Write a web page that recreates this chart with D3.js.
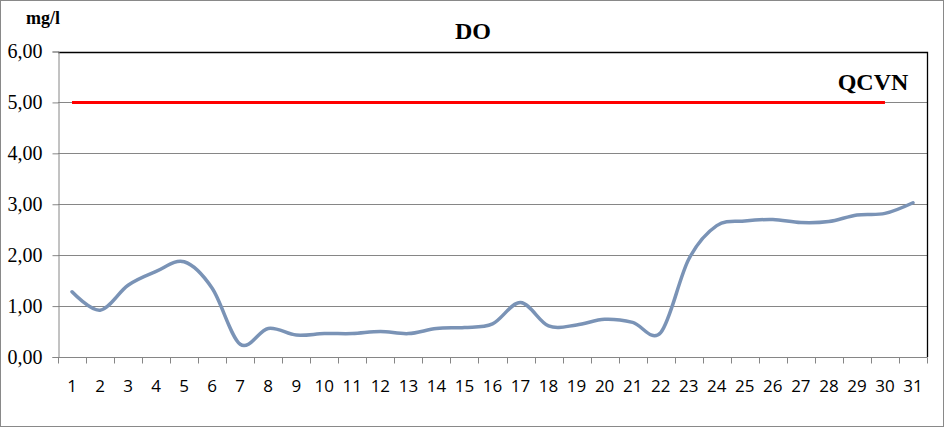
<!DOCTYPE html>
<html>
<head>
<meta charset="utf-8">
<script src="https://cdn.jsdelivr.net/npm/d3@7/dist/d3.min.js"></script>
<style>
body{ margin:0; background:#fff; }
svg text{ fill:#000; }
</style>
</head>
<body>
<div id="chart"></div>
<script>
// days of the month (x categories)
var days = d3.range(1, 32).map(String);
// DO measurements, mg/l
var doValues = [1.28, 0.92, 1.41, 1.68, 1.87, 1.35, 0.25, 0.56, 0.43, 0.46,
                0.46, 0.50, 0.46, 0.56, 0.58, 0.65, 1.07, 0.61, 0.63, 0.74,
                0.68, 0.48, 1.92, 2.58, 2.67, 2.70, 2.64, 2.66, 2.79, 2.82, 3.03];
// QCVN limit, drawn for days 1..30
var qcvnValues = d3.range(30).map(function(){ return 5; });
var yTicks = [0, 1, 2, 3, 4, 5, 6];

var W = 945, H = 428;
var m = {left: 58, right: 927, top: 51.5, bottom: 357};

var svg = d3.select("#chart").append("svg").attr("width", W).attr("height", H);

// outer frame
svg.append("rect").attr("x", 0.5).attr("y", 0.5).attr("width", 943).attr("height", 426)
  .attr("fill", "#fff").attr("stroke", "#898989");

var x = d3.scaleBand().domain(days).range([m.left, m.right]);
var y = d3.scaleLinear().domain([0, 6]).range([m.bottom, m.top]);

// gridlines
svg.append("g").selectAll("line").data(yTicks.slice(1)).join("line")
  .attr("x1", m.left).attr("x2", m.right)
  .attr("y1", function(d){ return Math.round(y(d)) + 0.5; })
  .attr("y2", function(d){ return Math.round(y(d)) + 0.5; })
  .attr("stroke", "#868686");

// plot area border top and right
svg.append("path")
  .attr("d", "M" + m.left + "," + (Math.round(m.top) + 0.5) + "H" + (m.right + 0.5) + "V" + m.bottom)
  .attr("fill", "none").attr("stroke", "#000").attr("stroke-width", 1.3);

// y axis
var yAxis = svg.append("g").attr("transform", "translate(" + (m.left + 0.5) + ",0)")
  .call(d3.axisLeft(y).tickValues(yTicks).tickSize(6).tickPadding(10)
    .tickFormat(function(d){ return d3.format(".2f")(d).replace(".", ","); }));
yAxis.select(".domain").attr("stroke", "#868686");
yAxis.selectAll(".tick line").attr("stroke", "#868686");
yAxis.selectAll("text").attr("font-family", "'Liberation Serif', serif").attr("font-size", 20)
  .attr("fill", "#000");

// x axis, ticks between categories
var xAxis = svg.append("g").attr("transform", "translate(0," + (m.bottom + 0.5) + ")");
xAxis.append("line").attr("x1", m.left).attr("x2", m.right + 0.5).attr("stroke", "#868686");
xAxis.selectAll("line.tk").data(d3.range(32)).join("line").attr("class", "tk")
  .attr("x1", function(i){ return Math.round(m.left + i * x.step()) + 0.5; })
  .attr("x2", function(i){ return Math.round(m.left + i * x.step()) + 0.5; })
  .attr("y1", 0).attr("y2", 6).attr("stroke", "#868686");
xAxis.selectAll("text").data(days).join("text")
  .attr("x", function(d){ return x(d) + x.bandwidth() / 2; })
  .attr("y", 34).attr("text-anchor", "middle")
  .attr("font-family", "'Open Sans', sans-serif").attr("font-size", 17)
  .text(function(d){ return d; });

// QCVN line
var line = d3.line()
  .x(function(d, i){ return x(days[i]) + x.bandwidth() / 2; })
  .y(function(d){ return y(d); });
svg.append("path").datum(qcvnValues).attr("d", line)
  .attr("fill", "none").attr("stroke", "#ff0000").attr("stroke-width", 3);

// DO smoothed line
svg.append("path").datum(doValues).attr("d", line.curve(d3.curveCatmullRom.alpha(0)))
  .attr("fill", "none").attr("stroke", "#7a93b6").attr("stroke-width", 3.5)
  .attr("stroke-linejoin", "round").attr("stroke-linecap", "round");

// labels
svg.append("text").attr("x", 473).attr("y", 39).attr("text-anchor", "middle")
  .attr("font-family", "'Liberation Serif', serif").attr("font-weight", "bold").attr("font-size", 24)
  .text("DO");
svg.append("text").attr("x", 26).attr("y", 24)
  .attr("font-family", "'Liberation Serif', serif").attr("font-weight", "bold").attr("font-size", 18)
  .text("mg/l");
svg.append("text").attr("x", 873).attr("y", 90).attr("text-anchor", "middle")
  .attr("font-family", "'Liberation Serif', serif").attr("font-weight", "bold").attr("font-size", 24)
  .text("QCVN");
</script>
</body>
</html>
